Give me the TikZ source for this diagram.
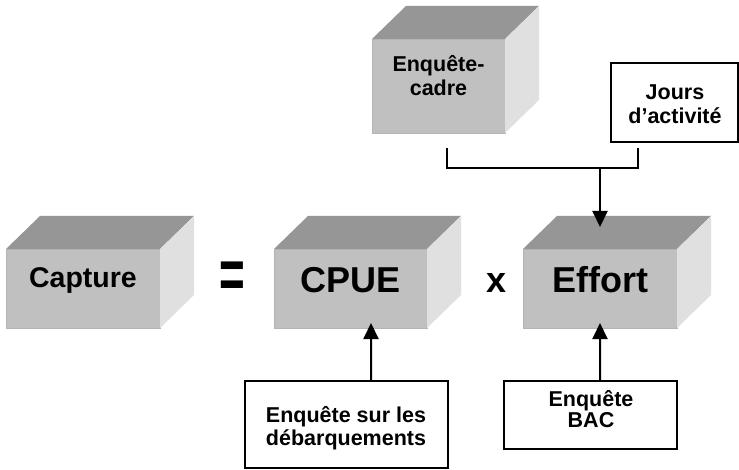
\documentclass[tikz,border=0pt]{standalone}
\usepackage{fontspec}
\setmainfont{Liberation Sans}
\usetikzlibrary{arrows.meta}
\definecolor{cubefront}{HTML}{C0C0C0}
\definecolor{cubetop}{HTML}{969696}
\definecolor{cubeside}{HTML}{E0E0E0}
\definecolor{cubeedge}{HTML}{B4B4B4}
\newcommand{\cubefaces}[1]{%
  \fill[cubetop] (#1.north west) -- ++(34bp,33bp) -- ([shift={(34bp,33bp)}]#1.north east) -- (#1.north east) -- cycle;
  \fill[cubeside] (#1.north east) -- ++(34bp,33bp) -- ([shift={(34bp,33bp)}]#1.south east) -- (#1.south east) -- cycle;}
\begin{document}
\begin{tikzpicture}[x=1bp,y=-1bp,
  cubefront/.style={rectangle, fill=cubefront, draw=cubeedge, line width=0.6bp, inner sep=0pt, outer sep=0pt},
  whitebox/.style={rectangle, fill=white, draw=black, line width=2bp, inner sep=0pt, outer sep=0pt},
  smalltxt/.style={font=\fontsize{21.5bp}{23bp}\selectfont\bfseries, align=center, inner sep=0pt},
  midtxt/.style={font=\fontsize{28.5bp}{30bp}\selectfont\bfseries, inner sep=0pt, anchor=base},
  bigtxt/.style={font=\fontsize{36bp}{40bp}\selectfont\bfseries, inner sep=0pt, anchor=base},
  conn/.style={draw=black, line width=2bp},
  arr/.style={conn, -{Triangle[length=16bp,width=15bp]}}]
\useasboundingbox (0,0) rectangle (739,470);
\fill[white] (0,0) rectangle (739,470);

% cubes
\node[cubefront, minimum width=154bp, minimum height=79bp] (capture) at (83,288.5) {};
\cubefaces{capture}
\node[cubefront, minimum width=153bp, minimum height=79bp] (cpue) at (350.5,288.5) {};
\cubefaces{cpue}
\node[cubefront, minimum width=154bp, minimum height=79bp] (effort) at (600,288.5) {};
\cubefaces{effort}
\node[cubefront, minimum width=133bp, minimum height=94bp] (cadre) at (438.5,86) {};
\cubefaces{cadre}

% white boxes
\node[whitebox, minimum width=127bp, minimum height=79bp] (jours) at (674.5,102.5) {};
\node[whitebox, minimum width=203bp, minimum height=87bp] (debarq) at (346.5,424.5) {};
\node[whitebox, minimum width=173bp, minimum height=68bp] (bac) at (590.5,415) {};

% texts
\node[midtxt] (tcapture) at (83,288) {Capture};
\node[bigtxt] (tcpue) at (350.5,293) {CPUE};
\node[bigtxt] (teffort) at (600,293) {Effort};
\node[bigtxt] (times) at (497,293) {x};
\node[inner sep=0pt, anchor=base] (equals) at (232,299) {\fontsize{44bp}{44bp}\selectfont\bfseries\scalebox{1}[1.6]{=}};
\node[smalltxt, font=\fontsize{21.5bp}{23.5bp}\selectfont\bfseries] (tcadre) at (438.5,75.5) {Enquête-\\cadre};
\node[smalltxt, font=\fontsize{21.5bp}{24bp}\selectfont\bfseries] (tjours) at (675,104.5) {Jours\\d’activité};
\node[smalltxt] (tdebarq) at (346,428.7) {Enquête sur les\\débarquements};
\node[smalltxt, font=\fontsize{21.5bp}{21bp}\selectfont\bfseries] (tbac) at (591,409) {Enquête\\BAC};

% connectors
\coordinate (join) at (600,168);
\draw[conn] ([xshift=8.5bp,yshift=-15bp]cadre.south) |- (join) -| ([xshift=-36.5bp,yshift=-6bp]jours.south);
\draw[arr] (join) -- ([yshift=22bp]effort.north);
\draw[arr] ([xshift=24.5bp]debarq.north) -- ([xshift=20.5bp,yshift=5bp]cpue.south);
\draw[arr] ([xshift=9.5bp]bac.north) -- ([yshift=5bp]effort.south);
\end{tikzpicture}
\end{document}
